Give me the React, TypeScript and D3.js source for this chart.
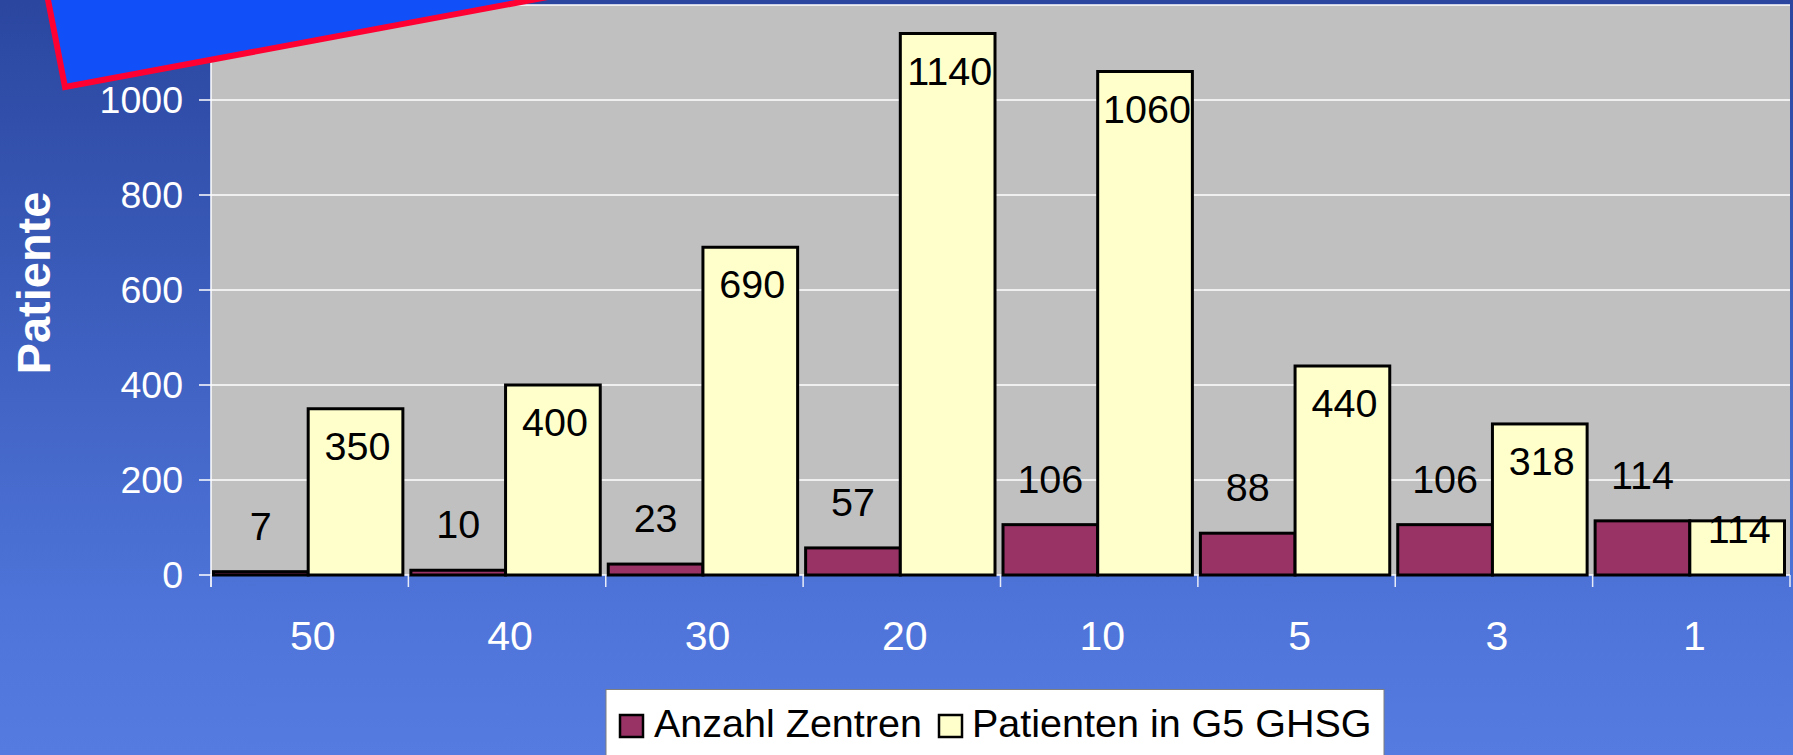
import React from "react";
import * as d3 from "d3";

const categories = ["50", "40", "30", "20", "10", "5", "3", "1"];
const anzahlZentren = [7, 10, 23, 57, 106, 88, 106, 114];
const patienten = [350, 400, 690, 1140, 1060, 440, 318, 114];
const yTicks = [0, 200, 400, 600, 800, 1000, 1200];
const yTickLabels = ["0", "200", "400", "600", "800", "1000", ""];
const seriesNames = ["Anzahl Zentren", "Patienten in G5 GHSG"];
const seriesColors = ["#993366", "#FFFFCC"];

const W = 1793;
const H = 755;
const plot = { left: 211, right: 1790, top: 5, bottom: 575 };
const FONT = "'Liberation Sans', Arial, Helvetica, sans-serif";

export default function App() {
  const x = d3.scaleBand<string>().domain(categories).range([plot.left, plot.right]).padding(0);
  const bw = x.bandwidth();
  const xs = d3.scaleBand<string>().domain(["a", "b"]).range([2.5, bw - 5.5]).padding(0);
  const y = d3.scaleLinear().domain([0, 1200]).range([plot.bottom, plot.top]);
  const base = y(0);

  return (
    <svg
      width={W}
      height={H}
      style={{ position: "absolute", left: 0, top: 0, display: "block" }}
      fontFamily={FONT}
    >
      <defs>
        <linearGradient id="bg" x1="0" y1="0" x2="0" y2="1">
          <stop offset="0" stopColor="#2A469F" />
          <stop offset="0.8" stopColor="#4E74D9" />
          <stop offset="1" stopColor="#557AE0" />
        </linearGradient>
      </defs>
      <rect x={0} y={0} width={W} height={H} fill="url(#bg)" />
      {/* plot area */}
      <rect x={plot.left} y={plot.top} width={plot.right - plot.left} height={plot.bottom - plot.top} fill="#C0C0C0" />
      {yTicks.map((t) => (
        <line key={"g" + t} x1={plot.left} x2={plot.right} y1={y(t)} y2={y(t)} stroke="#FFFFFF" strokeWidth={1.5} />
      ))}
      {/* y axis */}
      <line x1={plot.left} x2={plot.left} y1={plot.top} y2={plot.bottom + 12} stroke="#FFFFFF" strokeWidth={1.5} />
      {yTicks.map((t, i) => (
        <g key={"yt" + t}>
          <line x1={plot.left - 12} x2={plot.left} y1={y(t)} y2={y(t)} stroke="#FFFFFF" strokeWidth={1.5} />
          <text x={183} y={y(t) + 13} textAnchor="end" fontSize={37.5} fill="#FFFFFF">
            {yTickLabels[i]}
          </text>
        </g>
      ))}
      {/* x axis ticks */}
      {categories.map((c) => (
        <line key={"xt" + c} x1={x(c)!} x2={x(c)!} y1={plot.bottom} y2={plot.bottom + 12} stroke="#E8ECF8" strokeWidth={1.5} />
      ))}
      <line x1={plot.right} x2={plot.right} y1={plot.bottom} y2={plot.bottom + 12} stroke="#E8ECF8" strokeWidth={1.5} />
      {categories.map((c) => (
        <text key={"xl" + c} x={x(c)! + bw / 2 + 3} y={650} textAnchor="middle" fontSize={41} fill="#FFFFFF">
          {c}
        </text>
      ))}
      {/* bars */}
      {categories.map((c, i) => {
        const x0 = x(c)!;
        const vA = anzahlZentren[i];
        const vB = patienten[i];
        const ax = x0 + xs("a")!;
        const bx = x0 + xs("b")!;
        const w = xs.bandwidth();
        const topA = y(vA);
        const topB = y(vB);
        const labB = Math.min(topB + 51, base - 32);
        return (
          <g key={"bar" + c}>
            <rect x={ax} y={topA} width={w} height={base - topA} fill={seriesColors[0]} stroke="#000" strokeWidth={3} />
            <rect x={bx} y={topB} width={w} height={base - topB} fill={seriesColors[1]} stroke="#000" strokeWidth={3} />
            <text x={ax + w / 2} y={topA - 32} textAnchor="middle" fontSize={39.5} fill="#000">
              {vA}
            </text>
            <text x={bx + w / 2 + 2} y={labB} textAnchor="middle" fontSize={39.5} fill="#000">
              {vB}
            </text>
          </g>
        );
      })}
      {/* y title */}
      <text
        transform={`translate(50,283) rotate(-90)`}
        textAnchor="middle"
        fontSize={47}
        fontWeight="bold"
        fill="#FFFFFF"
      >
        Patiente
      </text>
      {/* legend */}
      <rect x={606} y={689.5} width={778} height={90} fill="#FFFFFF" stroke="#7F7F7F" strokeWidth={1} />
      <rect x={620} y={715} width={23} height={22} fill={seriesColors[0]} stroke="#000" strokeWidth={2.5} />
      <text x={654} y={737} fontSize={39.5} fill="#000">{seriesNames[0]}</text>
      <rect x={939} y={715} width={23} height={22} fill={seriesColors[1]} stroke="#000" strokeWidth={2.5} />
      <text x={972} y={737} fontSize={39.5} fill="#000">{seriesNames[1]}</text>
      {/* decorative shape */}
      <polygon points="45.7,-12 65,87 596,-12" fill="#1150F8" stroke="#FF0033" strokeWidth={6} strokeLinejoin="miter" />
    </svg>
  );
}
